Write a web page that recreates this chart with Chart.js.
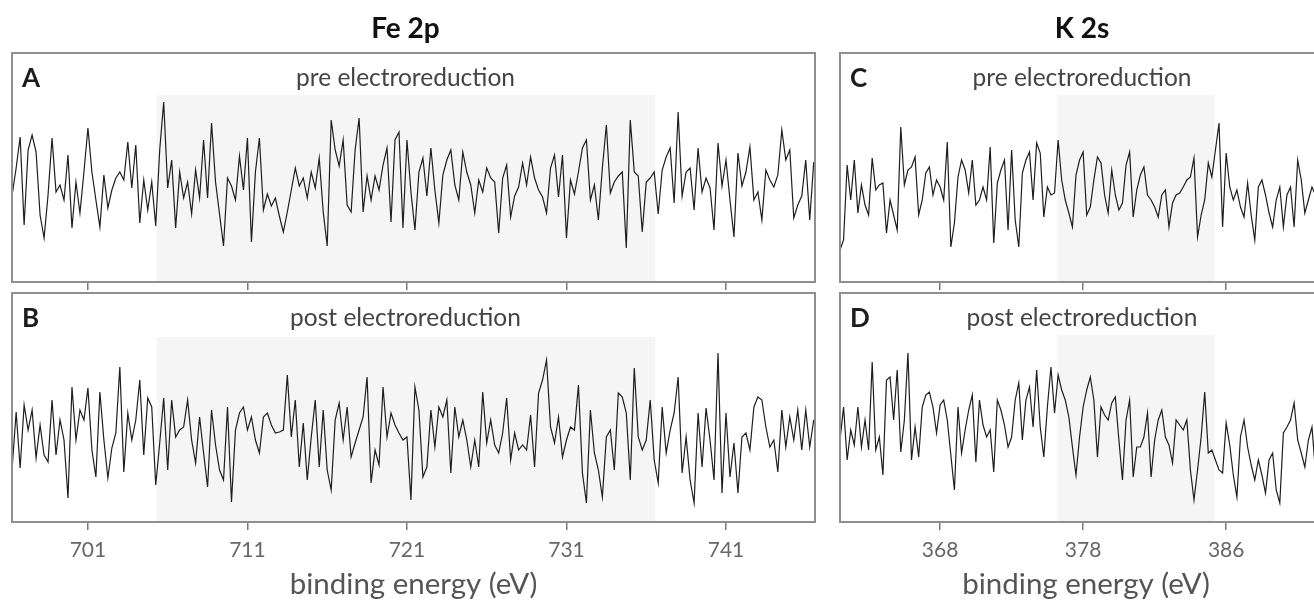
<!DOCTYPE html>
<html>
<head>
<meta charset="utf-8">
<title>Fe 2p / K 2s spectra</title>
<script src="https://cdn.jsdelivr.net/npm/chart.js@4.4.1/dist/chart.umd.min.js"></script>
<style>
  html, body { margin: 0; padding: 0; background: #fff; }
  #wrap { position: relative; width: 1314px; height: 603px; overflow: hidden; }
  canvas { position: absolute; }
</style>
</head>
<body>
<div id="wrap">
  <canvas id="feA" width="830" height="292" style="left:0;top:0"></canvas>
  <canvas id="feB" width="830" height="313" style="left:0;top:290px"></canvas>
  <canvas id="kC" width="520" height="292" style="left:828px;top:0"></canvas>
  <canvas id="kD" width="520" height="313" style="left:828px;top:290px"></canvas>
</div>
<script>
// energy grids (eV)
const feStart = 696.25, feStep = 0.25;
const kStart = 361.0, kStep = 0.25;
const feRange = [696.24, 746.58];
const kRange = [361.0, 395.4];

// ticks
const feTicks = [701, 711, 721, 731, 741];
const feTickLabels = ['701', '711', '721', '731', '741'];
const kTicks = [368, 378, 388];
const kTickLabels = ['368', '378', '386'];

// shaded windows
const feShade = [705.33, 736.58];
const kShade = [376.2, 387.2];

// intensities (a.u.)
const fePre = [
  87,114,145,57,132,147,130,67,44,87,
  144,90,97,82,127,54,100,69,110,154,
  110,82,55,107,74,92,104,110,102,140,
  94,137,59,102,72,100,56,132,180,94,
  122,54,110,84,100,68,112,84,142,84,
  159,100,68,36,104,96,82,126,92,144,
  40,110,144,72,88,76,84,66,50,70,
  92,114,96,104,84,110,94,124,70,36,
  162,132,116,142,77,70,132,164,70,106,
  82,106,92,117,134,60,142,150,54,142,
  90,52,110,124,86,134,92,59,107,122,
  132,97,82,130,110,97,69,102,90,114,
  104,100,49,104,117,65,86,95,119,97,
  125,104,92,85,69,114,127,85,127,44,
  102,88,110,134,142,82,97,62,114,157,
  89,100,106,110,34,162,110,106,50,100,
  104,110,68,112,125,134,79,170,86,110,
  114,72,134,90,104,94,52,139,96,122,
  82,45,129,96,110,135,82,90,62,112,
  102,95,107,152,122,132,64,77,86,122,
  62,120
];
const fePost = [
  54,110,54,117,92,112,64,97,67,60,
  122,67,102,82,24,135,82,112,102,134,
  72,45,130,82,44,74,89,155,50,109,
  82,102,142,67,124,115,37,79,124,52,
  122,85,92,95,122,82,59,105,69,35,
  112,77,52,42,115,20,92,109,115,92,
  105,82,69,105,109,97,89,90,92,147,
  85,122,55,99,42,85,122,55,112,52,
  32,102,119,82,115,65,79,92,105,145,
  39,72,57,135,85,109,97,89,82,85,
  22,135,112,45,55,112,75,115,105,122,
  49,115,85,102,82,55,82,55,130,79,
  102,77,69,89,124,62,89,72,77,72,
  107,55,129,142,162,95,79,105,65,82,
  95,92,137,49,19,112,69,52,25,85,
  92,52,129,125,109,42,154,85,72,82,
  122,62,39,115,69,92,109,145,49,85,
  42,19,109,55,114,82,42,169,29,109,
  45,79,29,85,89,72,115,125,122,95,
  75,82,50,112,75,105,82,112,72,112,
  75,102
];
const kPre = [
  32,42,117,82,122,69,97,77,67,124,
  92,97,99,49,82,67,52,155,97,112,
  115,125,67,82,109,115,87,102,95,82,
  140,35,59,105,122,112,89,122,77,82,
  95,82,135,39,99,112,122,52,132,62,
  35,109,122,130,82,139,129,65,95,87,
  89,142,102,82,69,55,107,122,130,67,
  75,102,125,119,87,69,112,87,72,79,
  117,130,65,92,107,115,87,82,75,65,
  87,92,55,79,87,89,95,102,105,124,
  45,67,82,119,105,132,159,55,129,95,
  82,92,75,65,99,67,42,95,102,87,
  69,55,82,95,55,87,95,55,122,102,
  69,82,95,87,102,82
];
const kPost = [
  82,115,62,92,77,115,75,102,72,160,
  72,85,47,142,145,102,152,70,102,169,
  62,95,65,115,127,130,115,89,117,122,
  102,67,32,115,69,92,112,127,60,122,
  97,85,92,50,122,112,97,75,85,122,
  139,82,122,135,95,152,95,65,115,155,
  109,147,132,122,105,75,47,85,115,132,
  145,122,65,115,107,102,119,125,82,42,
  102,122,45,75,75,85,109,45,82,102,
  112,85,77,59,102,97,92,102,52,22,
  52,85,130,69,72,62,52,49,99,77,
  47,25,85,102,75,57,42,62,47,29,
  62,69,32,19,89,95,102,119,82,69,
  55,82,95,49,82,72
];

Chart.defaults.font.family = 'Lato';

// frame, panel letter, subtitle and column heading
const panelDecor = {
  id: 'panelDecor',
  afterDraw(chart, args, o) {
    const { ctx, chartArea: a } = chart;
    ctx.save();
    ctx.strokeStyle = '#8f8f8f';
    ctx.lineWidth = 2;
    ctx.strokeRect(a.left, a.top, a.right - a.left, a.bottom - a.top);
    ctx.textBaseline = 'alphabetic';
    ctx.textAlign = 'left';
    ctx.fillStyle = '#1c1c1c';
    ctx.font = 'bold 26px Lato';
    ctx.fillText(o.letter, a.left + 10, a.top + 34);
    const cx = (a.left + a.right) / 2 + o.dx;
    ctx.textAlign = 'center';
    ctx.fillStyle = '#444';
    ctx.font = '24.5px Lato';
    ctx.fillText(o.subtitle, cx, a.top + 33);
    if (o.heading) {
      ctx.fillStyle = '#111';
      ctx.font = 'bold 28px Lato';
      ctx.fillText(o.heading, cx, a.top - 15);
    }
    ctx.restore();
  }
};

function makePanel(id, p) {
  return new Chart(document.getElementById(id), {
    type: 'line',
    data: {
      datasets: [
        {
          data: p.values.map((v, i) => ({ x: p.start + i * p.step, y: v })),
          borderColor: '#1e1e1e',
          borderWidth: 1.2,
          pointRadius: 0,
          tension: 0,
          fill: false,
          order: 0
        },
        {
          data: p.shade.map(x => ({ x: x, y: p.shadeTop })),
          borderWidth: 0,
          borderColor: 'rgba(0,0,0,0)',
          backgroundColor: '#f5f5f5',
          pointRadius: 0,
          fill: 'origin',
          order: 1
        }
      ]
    },
    options: {
      responsive: false,
      animation: false,
      events: [],
      layout: { padding: { left: 12, right: p.padRight, top: p.padTop, bottom: 0 } },
      plugins: {
        legend: { display: false },
        tooltip: { enabled: false },
        panelDecor: { letter: p.letter, subtitle: p.subtitle, heading: p.heading, dx: p.dx }
      },
      scales: {
        x: {
          type: 'linear',
          min: p.range[0],
          max: p.range[1],
          afterBuildTicks: s => { s.ticks = p.ticks.map(v => ({ value: v })); },
          afterFit: s => { s.height = p.axisHeight; },
          grid: { drawOnChartArea: false, drawTicks: true, tickLength: 8, color: '#7a7a7a', lineWidth: 1.5 },
          border: { display: false },
          ticks: {
            display: p.showLabels,
            autoSkip: false,
            maxRotation: 0,
            color: '#666',
            font: { size: 21 },
            padding: 8,
            callback: (v, i) => p.labels[i]
          },
          title: {
            display: p.showLabels,
            text: 'binding energy (eV)',
            color: '#555',
            font: { size: 29.5 },
            padding: { top: 0, bottom: 1 }
          }
        },
        y: { display: false, min: 0, max: 229 }
      }
    },
    plugins: [panelDecor]
  });
}

makePanel('feA', {
  values: fePre, start: feStart, step: feStep, range: feRange,
  ticks: feTicks, labels: feTickLabels, shade: feShade, shadeTop: 187,
  letter: 'A', subtitle: 'pre electroreduction', heading: 'Fe 2p', dx: -8,
  padTop: 53, padRight: 15, axisHeight: 10, showLabels: false
});
makePanel('feB', {
  values: fePost, start: feStart, step: feStep, range: feRange,
  ticks: feTicks, labels: feTickLabels, shade: feShade, shadeTop: 185,
  letter: 'B', subtitle: 'post electroreduction', heading: '', dx: -8,
  padTop: 3, padRight: 15, axisHeight: 81, showLabels: true
});
makePanel('kC', {
  values: kPre, start: kStart, step: kStep, range: kRange,
  ticks: kTicks, labels: kTickLabels, shade: kShade, shadeTop: 187,
  letter: 'C', subtitle: 'pre electroreduction', heading: 'K 2s', dx: -4,
  padTop: 53, padRight: 16, axisHeight: 10, showLabels: false
});
makePanel('kD', {
  values: kPost, start: kStart, step: kStep, range: kRange,
  ticks: kTicks, labels: kTickLabels, shade: kShade, shadeTop: 187,
  letter: 'D', subtitle: 'post electroreduction', heading: '', dx: -4,
  padTop: 3, padRight: 16, axisHeight: 81, showLabels: true
});
</script>
</body>
</html>
